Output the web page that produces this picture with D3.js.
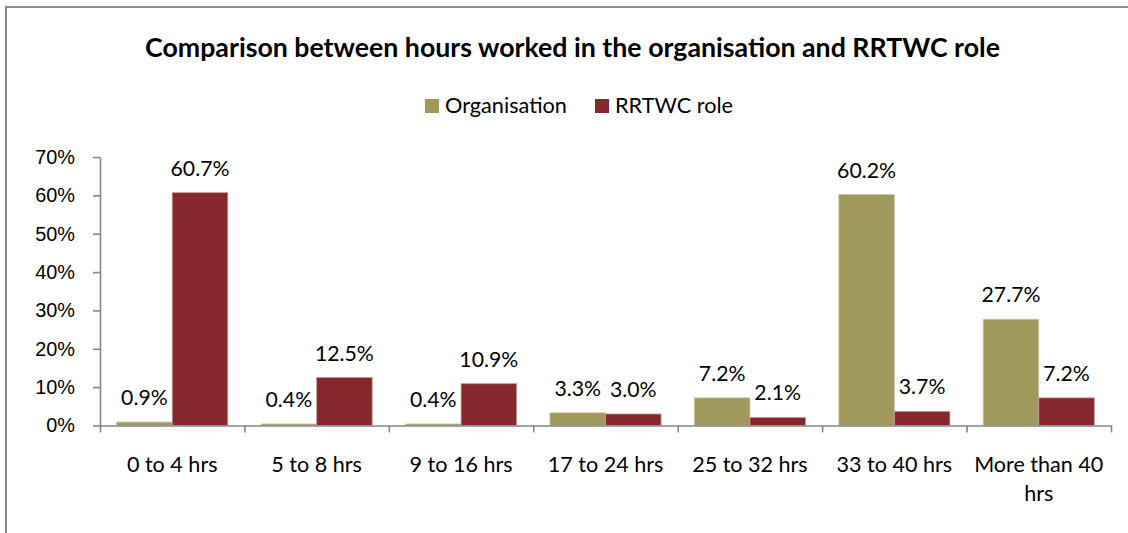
<!DOCTYPE html>
<html>
<head>
<meta charset="utf-8">
<script src="https://cdn.jsdelivr.net/npm/d3@7"></script>
<style>
    body { margin: 0; background: #fff; }
    svg { display: block; font-family: Lato, "Open Sans", sans-serif; }
</style>
</head>
<body>
<div class="chart"></div>
<script>
// data
var categories = ["0 to 4 hrs", "5 to 8 hrs", "9 to 16 hrs", "17 to 24 hrs", "25 to 32 hrs", "33 to 40 hrs", "More than 40 hrs"];
var seriesNames = ["Organisation", "RRTWC role"];
var organisation = [0.9, 0.4, 0.4, 3.3, 7.2, 60.2, 27.7];
var rrtwcRole = [60.7, 12.5, 10.9, 3.0, 2.1, 3.7, 7.2];
var yTicks = [0, 10, 20, 30, 40, 50, 60, 70];
var titleText = "Comparison between hours worked in the organisation and RRTWC role";

var config = {
    w: 1128,
    h: 533,
    left: 100,
    right: 1111,
    top: 157,
    bottom: 425.5,
    colors: ["#9f9a5b", "#86282b"],
    strokes: ["#c9c5a0", "#c99a9b"],
    axisColor: "#868686"
};

var svg = d3.select(".chart")
    .append("svg")
    .attr("width", config.w)
    .attr("height", config.h);

// chart area border (runs off the picture at right and bottom)
svg.append("rect")
    .attr("x", 6)
    .attr("y", 7)
    .attr("width", 1200)
    .attr("height", 600)
    .attr("fill", "none")
    .attr("stroke", "#8c8c8c")
    .attr("stroke-width", 2);

// scale a font size so a sample string hits a measured width
var fitSize = function (text, weight, target, base) {
    var t = svg.append("text")
        .attr("font-size", base)
        .attr("font-weight", weight)
        .text(text);
    var len = t.node().getComputedTextLength();
    t.remove();
    return base * target / len;
};

var x0 = d3.scaleBand()
    .domain(categories)
    .range([config.left, config.right])
    .paddingInner(0)
    .paddingOuter(0);

var x1 = d3.scaleBand()
    .domain(seriesNames)
    .range([0, x0.bandwidth()])
    .paddingInner(0)
    .paddingOuter(0.3);

var yScale = d3.scaleLinear()
    .domain([0, 70])
    .range([config.bottom, config.top]);

var rows = categories.map(function (c, i) {
    return { cat: c, values: [organisation[i], rrtwcRole[i]] };
});

// title
var titleSize = fitSize(titleText, "bold", 855, 24);
svg.append("text")
    .attr("x", 572.5)
    .attr("y", 57)
    .attr("text-anchor", "middle")
    .attr("font-weight", "bold")
    .attr("font-size", titleSize)
    .attr("fill", "#000")
    .text(titleText);

// legend
var legendSize = fitSize("Organisation", "normal", 122, 20);
var legendX = [425, 595];
seriesNames.forEach(function (name, i) {
    var g = svg.append("g").attr("transform", "translate(" + legendX[i] + ",0)");
    g.append("rect")
        .attr("x", 0)
        .attr("y", 99)
        .attr("width", 14)
        .attr("height", 14)
        .attr("fill", config.colors[i]);
    g.append("text")
        .attr("x", 20)
        .attr("y", 113)
        .attr("font-size", legendSize)
        .attr("fill", "#000")
        .text(name);
});

// bars
var groups = svg.selectAll("g.cat")
    .data(rows)
    .enter()
    .append("g")
    .attr("class", "cat")
    .attr("transform", function (d) {
        return "translate(" + x0(d.cat) + ",0)";
    });

groups.selectAll("rect")
    .data(function (d) {
        return d.values.map(function (v, i) { return { name: seriesNames[i], value: v, i: i }; });
    })
    .enter()
    .append("rect")
    .attr("x", function (d) { return x1(d.name); })
    .attr("y", function (d) { return yScale(d.value); })
    .attr("width", x1.bandwidth())
    .attr("height", function (d) { return config.bottom - yScale(d.value); })
    .attr("fill", function (d) { return config.colors[d.i]; })
    .attr("stroke", function (d) { return config.strokes[d.i]; })
    .attr("stroke-width", 0.8);

// value labels
var labelSize = fitSize("60.7%", "normal", 59, 20);
groups.selectAll("text.val")
    .data(function (d) {
        return d.values.map(function (v, i) { return { name: seriesNames[i], value: v }; });
    })
    .enter()
    .append("text")
    .attr("class", "val")
    .attr("x", function (d) { return x1(d.name) + x1.bandwidth() / 2; })
    .attr("y", function (d) { return yScale(d.value) - 17; })
    .attr("text-anchor", "middle")
    .attr("font-size", labelSize)
    .attr("fill", "#000")
    .text(function (d) { return d.value.toFixed(1) + "%"; });

// y axis
var tickSize = fitSize("70%", "normal", 39, 20);
var yAxis = d3.axisLeft(yScale)
    .tickValues(yTicks)
    .tickSize(7)
    .tickSizeOuter(0)
    .tickPadding(18)
    .tickFormat(function (d) { return d + "%"; });

var yG = svg.append("g")
    .attr("class", "axis")
    .attr("transform", "translate(" + config.left + ",0)")
    .call(yAxis);

// x axis, ticks on the category boundaries
var xEdge = d3.scaleLinear()
    .domain([0, categories.length])
    .range([config.left, config.right]);

var xAxis = d3.axisBottom(xEdge)
    .tickValues(d3.range(categories.length + 1))
    .tickSize(7)
    .tickSizeOuter(0)
    .tickFormat("");

var xG = svg.append("g")
    .attr("class", "axis")
    .attr("transform", "translate(0," + config.bottom + ")")
    .call(xAxis);

svg.selectAll(".axis path, .axis line")
    .attr("stroke", config.axisColor)
    .attr("stroke-width", 1.6);
yG.selectAll("text")
    .attr("font-size", tickSize)
    .attr("font-family", null)
    .attr("fill", "#000");

// category labels, wrapped to the band width
var catSize = fitSize("0 to 4 hrs", "normal", 90.6, 20);
var catLabels = svg.selectAll("text.cat")
    .data(categories)
    .enter()
    .append("text")
    .attr("class", "cat")
    .attr("x", function (d) { return x0(d) + x0.bandwidth() / 2; })
    .attr("y", 472)
    .attr("text-anchor", "middle")
    .attr("font-size", catSize)
    .attr("fill", "#000");

catLabels.each(function (d) {
    var el = d3.select(this);
    var words = d.split(" ");
    var line = [];
    var lineNo = 0;
    var tspan = el.append("tspan").attr("x", el.attr("x")).attr("dy", 0);
    words.forEach(function (w) {
        line.push(w);
        tspan.text(line.join(" "));
        if (tspan.node().getComputedTextLength() > x0.bandwidth() - 12 && line.length > 1) {
            line.pop();
            tspan.text(line.join(" "));
            line = [w];
            lineNo++;
            tspan = el.append("tspan").attr("x", el.attr("x")).attr("dy", 29).text(w);
        }
    });
});
</script>
</body>
</html>
